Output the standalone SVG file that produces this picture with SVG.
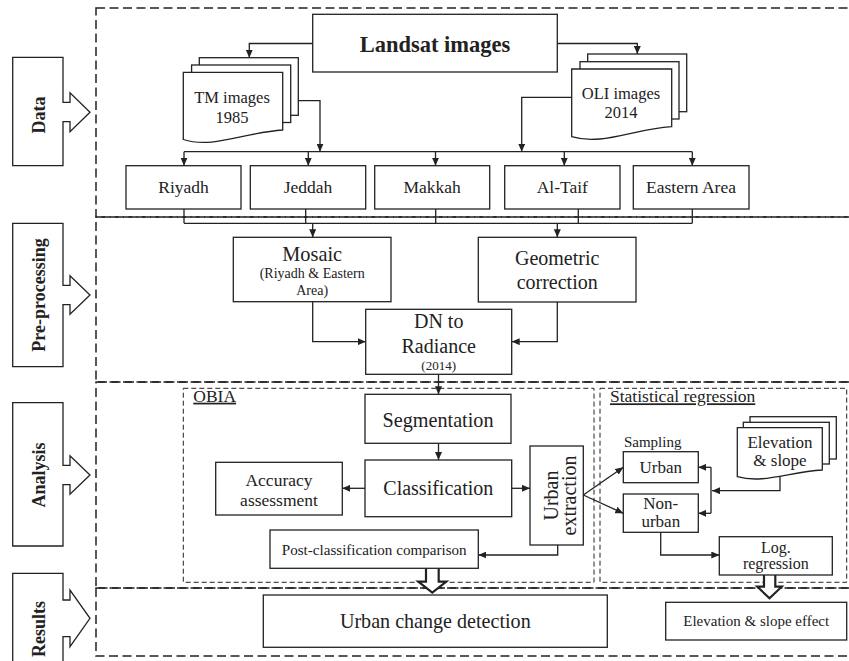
<svg xmlns="http://www.w3.org/2000/svg" width="849" height="661" viewBox="0 0 849 661">
<style>
text{font-family:'Liberation Serif','Tinos','Times New Roman','DejaVu Serif',serif;fill:#222;text-anchor:middle}
.b{font-weight:bold}
.box{fill:#fff;stroke:#222;stroke-width:1.3}
.sec{fill:none;stroke:#222;stroke-width:1.5;stroke-dasharray:9 4.5}
.sub{fill:none;stroke:#222;stroke-width:1;stroke-dasharray:5 3}
.ln{fill:none;stroke:#222;stroke-width:1.3}
.arr{fill:none;stroke:#222;stroke-width:1.3;marker-end:url(#ah)}
.blk{fill:#fff;stroke:#222;stroke-width:2.2;stroke-linejoin:miter}
.st{text-anchor:start}
</style>
<defs>
<marker id="ah" markerUnits="userSpaceOnUse" markerWidth="8" markerHeight="7" refX="8" refY="3.5" orient="auto">
<path d="M0,0 L8,3.5 L0,7 Z" fill="#222"/>
</marker>
</defs>
<rect width="849" height="661" fill="#fff"/>

<g id="sections">
<rect class="sec" x="96" y="8" width="760" height="209"/>
<rect class="sec" x="96" y="217" width="760" height="165"/>
<rect class="sec" x="96" y="382" width="760" height="206"/>
<rect class="sec" x="96" y="588" width="760" height="68"/>
</g>

<g font-family="Liberation Serif, serif">
<g id="tab-data">
<path class="box" d="M12.7,57.3 H63 V102.3 H70 V92.7 L90,112.2 L70,131.7 V121.7 H63 V165.7 H12.7 Z"/>
<text class="b" font-size="18" transform="translate(45,115) rotate(-90)">Data</text>
</g>
<g id="tab-preprocessing">
<path class="box" d="M12.7,223.3 H63 V285.3 H70 V275.7 L90,295 L70,314.3 V304.7 H63 V366.7 H12.7 Z"/>
<text class="b" font-size="18" transform="translate(45,295) rotate(-90)">Pre-processing</text>
</g>
<g id="tab-analysis">
<path class="box" d="M12.7,402.7 H63 V465.3 H70 V455.7 L90,475 L70,494.3 V484.7 H63 V546 H12.7 Z"/>
<text class="b" font-size="18" transform="translate(45,475) rotate(-90)">Analysis</text>
</g>
<g id="tab-results">
<path class="box" d="M12.7,573.3 H63 V600 H70 V590 L90,618.3 L70,646.7 V636.7 H63 V700 H12.7 Z"/>
<text class="b" font-size="18" transform="translate(45,629) rotate(-90)">Results</text>
</g>

<g id="obia-group">
<rect class="sub" x="183.3" y="388.3" width="410.7" height="194"/>
<text class="st" font-size="17.5" x="193.3" y="401.7" text-decoration="underline">OBIA</text>
</g>
<g id="statistical-regression-group">
<rect class="sub" x="600" y="388.3" width="246.7" height="194"/>
<text class="st" font-size="17.5" x="610" y="402.3" text-decoration="underline">Statistical regression</text>
</g>

<g id="connectors">
<path class="arr" d="M312.7,43.5 H249.3 V57.7"/>
<path class="arr" d="M557.3,43.5 H637.3 V54"/>
<path class="arr" d="M298.3,100.7 H320 V151.7"/>
<path class="arr" d="M571.7,97.3 H521.7 V151.7"/>
<path class="ln" d="M184,151.7 H692.3"/>
<path class="arr" d="M184,151.7 V165.7"/>
<path class="arr" d="M308.3,151.7 V165.7"/>
<path class="arr" d="M435.5,151.7 V165.7"/>
<path class="arr" d="M564.3,151.7 V165.7"/>
<path class="arr" d="M692.3,151.7 V165.7"/>
<path class="ln" d="M184,209 V223.3 M305.7,209 V223.3 M435.7,209 V223.3 M578.3,209 V223.3 M692.3,209 V223.3 M184,223.3 H692.3"/>
<path class="arr" d="M312.7,223.3 V237.3"/>
<path class="arr" d="M557.3,223.3 V237.3"/>
<path class="arr" d="M312.7,301.7 V341.7 H365.7"/>
<path class="arr" d="M557.3,302 V341.7 H511.7"/>
<path class="arr" d="M438.5,374.3 V394.3"/>
<path class="arr" d="M438.5,443.3 V460"/>
<path class="arr" d="M365,488.3 H342.3"/>
<path class="arr" d="M511.7,488.3 H530"/>
<path class="arr" d="M557.7,545 V555 H478.3"/>
<path class="arr" d="M583.3,495 L623.3,467.3"/>
<path class="arr" d="M583.3,495 L623.3,513.3"/>
<path class="arr" d="M780,475 V490.7 H712"/>
<path class="ln" d="M711,467.3 V513.3"/>
<path class="arr" d="M711,467.3 H698.3"/>
<path class="arr" d="M711,513.3 H698.3"/>
<path class="arr" d="M660.7,532.3 V555 H719.3"/>
<path class="blk" d="M426,568.3 V581.7 H418.3 L432.3,592.7 L446.3,581.7 H438.7 V568.3"/>
<path class="blk" d="M764,575 V586.7 H757.3 L769.5,598.3 L781.7,586.7 H775.3 V575"/>
</g>

<g id="landsat">
<rect class="box" x="312.7" y="14.3" width="244.6" height="57.7"/>
<text class="b" font-size="22.5" x="435" y="51.5">Landsat images</text>
</g>
<g id="tm-images">
<rect class="box" x="199.3" y="57.7" width="99" height="57.6"/>
<rect class="box" x="191.6" y="65" width="99.1" height="57.5"/>
<path class="box" d="M183.3,72.3 H282.7 V130 C244,132.5 213,149 183.3,139.5 Z"/>
<text font-size="16.5" x="232" y="103.3">TM images</text>
<text font-size="16.5" x="232" y="122.7">1985</text>
</g>
<g id="oli-images">
<rect class="box" x="587.7" y="54" width="99" height="57.7"/>
<rect class="box" x="580" y="61.7" width="99" height="57.3"/>
<path class="box" d="M571.7,69 H671.7 V126.7 C633,129 602,146 571.7,136.7 Z"/>
<text font-size="16.5" x="621" y="99">OLI images</text>
<text font-size="16.5" x="621" y="118.3">2014</text>
</g>

<g id="riyadh"><rect class="box" x="126" y="165.7" width="115" height="43.3"/><text font-size="17.5" x="183.5" y="193.3">Riyadh</text></g>
<g id="jeddah"><rect class="box" x="250.3" y="165.7" width="115.4" height="43.3"/><text font-size="17.5" x="308" y="193.3">Jeddah</text></g>
<g id="makkah"><rect class="box" x="374.7" y="165.7" width="115" height="43.3"/><text font-size="17.5" x="432.2" y="193.3">Makkah</text></g>
<g id="al-taif"><rect class="box" x="504.7" y="165.7" width="115.3" height="43.3"/><text font-size="17.5" x="562.3" y="193.3">Al-Taif</text></g>
<g id="eastern-area"><rect class="box" x="633.3" y="165.7" width="115.7" height="43.3"/><text font-size="17.5" x="691" y="193.3">Eastern Area</text></g>

<g id="mosaic">
<rect class="box" x="233.3" y="237.3" width="157.7" height="64.4"/>
<text font-size="20.3" x="312.2" y="261">Mosaic</text>
<text font-size="14" x="312.2" y="278.3">(Riyadh &amp; Eastern</text>
<text font-size="14" x="312.2" y="295">Area)</text>
</g>
<g id="geometric-correction">
<rect class="box" x="478.3" y="237.3" width="157.7" height="64.7"/>
<text font-size="20" x="557.2" y="265">Geometric</text>
<text font-size="20" x="557.2" y="289.3">correction</text>
</g>
<g id="dn-to-radiance">
<rect class="box" x="365.7" y="309.3" width="146" height="65"/>
<text font-size="20" x="438.7" y="328.3">DN to</text>
<text font-size="20" x="438.7" y="352.7">Radiance</text>
<text font-size="13" x="438.7" y="370">(2014)</text>
</g>

<g id="segmentation"><rect class="box" x="365" y="394.3" width="146" height="49"/><text font-size="20.2" x="438" y="426.7">Segmentation</text></g>
<g id="classification"><rect class="box" x="365" y="460" width="146.7" height="56.7"/><text font-size="20" x="438.3" y="495">Classification</text></g>
<g id="accuracy-assessment">
<rect class="box" x="215.7" y="462.3" width="126.6" height="52.7"/>
<text font-size="17.5" x="279" y="486">Accuracy</text>
<text font-size="17.5" x="279" y="506">assessment</text>
</g>
<g id="urban-extraction">
<rect class="box" x="530" y="446" width="53.3" height="99"/>
<text font-size="20" transform="translate(557.5,495.5) rotate(-90)">Urban</text>
<text font-size="20" transform="translate(576,495.5) rotate(-90)">extraction</text>
</g>
<g id="post-classification">
<rect class="box" x="270" y="530" width="208.3" height="38.3"/>
<text font-size="15.1" x="374.2" y="555">Post-classification comparison</text>
</g>

<g id="sampling">
<text font-size="15" x="652.7" y="447.3">Sampling</text>
</g>
<g id="urban"><rect class="box" x="623.3" y="451.7" width="75" height="31"/><text font-size="17" x="660.8" y="472.7">Urban</text></g>
<g id="non-urban">
<rect class="box" x="623.3" y="494" width="75" height="38.3"/>
<text font-size="17" x="660.8" y="509.3">Non-</text>
<text font-size="17" x="660.8" y="526.7">urban</text>
</g>
<g id="elevation-slope">
<rect class="box" x="750" y="416.7" width="86.3" height="42.3"/>
<rect class="box" x="743.3" y="422.3" width="86" height="41.7"/>
<path class="box" d="M737.3,427.7 H822.3 V470 C789,472 763,484 737.3,476.7 Z"/>
<text font-size="17" x="780" y="448.3">Elevation</text>
<text font-size="17" x="780" y="466">&amp; slope</text>
</g>
<g id="log-regression">
<rect class="box" x="719.3" y="536.7" width="113" height="38.3"/>
<text font-size="16" x="775.8" y="553">Log.</text>
<text font-size="16" x="775.8" y="569">regression</text>
</g>

<g id="urban-change-detection">
<rect class="box" x="263.3" y="595" width="344" height="52.3"/>
<text font-size="20.1" x="435.3" y="628.3">Urban change detection</text>
</g>
<g id="elevation-slope-effect">
<rect class="box" x="665.7" y="602.3" width="181" height="37.7"/>
<text font-size="15" x="756.2" y="626">Elevation &amp; slope effect</text>
</g>
</g>
</svg>
